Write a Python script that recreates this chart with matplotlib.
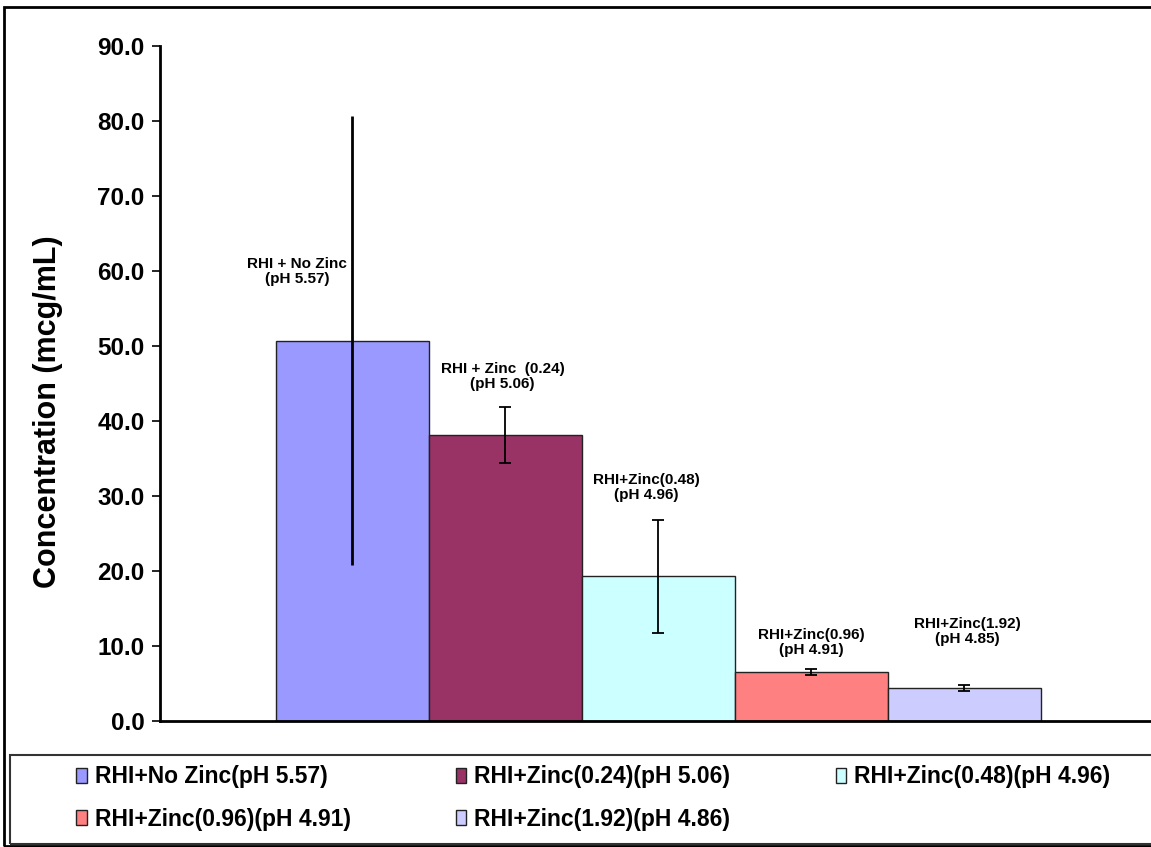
import matplotlib
matplotlib.use("Agg")
import matplotlib.pyplot as plt
from matplotlib.patches import Rectangle

legend_labels = ["RHI+No Zinc(pH 5.57)", "RHI+Zinc(0.24)(pH 5.06)", "RHI+Zinc(0.48)(pH 4.96)",
                 "RHI+Zinc(0.96)(pH 4.91)", "RHI+Zinc(1.92)(pH 4.86)"]
bar_notes = ["RHI + No Zinc\n(pH 5.57)", "RHI + Zinc  (0.24)\n(pH 5.06)", "RHI+Zinc(0.48)\n(pH 4.96)",
             "RHI+Zinc(0.96)\n(pH 4.91)", "RHI+Zinc(1.92)\n(pH 4.85)"]
means = [50.7, 38.1, 19.3, 6.6, 4.4]
errors = [29.9, 3.7, 7.5, 0.4, 0.4]
colors = ["#9999FF", "#993366", "#CCFFFF", "#FF8080", "#CCCCFF"]
yticks = [0, 10, 20, 30, 40, 50, 60, 70, 80, 90]

FONT = "Liberation Sans"
W, H = 1151, 847
fig = plt.figure(figsize=(W / 100, H / 100), dpi=100)
ax = fig.add_axes([160 / W, (H - 721) / H, (W - 160) / W, (721 - 46) / H])

x = list(range(len(means)))
bars = ax.bar(x, means, width=1.0, color=colors, edgecolor="#222222", linewidth=1.0)
ax.errorbar(x[:1], means[:1], yerr=errors[:1], fmt="none", ecolor="black", elinewidth=2, capsize=0)
ax.errorbar(x[1:], means[1:], yerr=errors[1:], fmt="none", ecolor="black", elinewidth=1.3,
            capsize=4, capthick=1.3)

note_x = [-0.36, 0.98, 1.92, 3.0, 4.02]
note_y = [59.9, 45.9, 31.1, 10.5, 11.9]
for nx, ny, t in zip(note_x, note_y, bar_notes):
    ax.text(nx, ny, t, ha="center", va="center", fontsize=11, fontweight="bold",
            family=FONT, linespacing=1.1)

ax.set_xlim(-1.258, (W - 352.5) / 153)
ax.set_ylim(0, 90)
ax.set_yticks(yticks)
ax.set_yticklabels([f"{v:.1f}" for v in yticks], fontsize=17.5, fontweight="bold", family=FONT)
ax.set_xticks([])
for s in ["top", "right"]:
    ax.spines[s].set_visible(False)
ax.spines["left"].set_linewidth(2)
ax.spines["bottom"].set_linewidth(2)
ax.tick_params(axis="y", direction="out", length=6, width=1.2, pad=5)
ax.set_ylabel("Concentration (mcg/mL)", fontsize=22, fontweight="bold", family=FONT)
ax.yaxis.set_label_coords((63 - 160) / (W - 160), (721 - 412) / (721 - 46))

# figure border and legend frame
fig.patches.append(Rectangle((4 / W, 1 / H), 1.2, (H - 8) / H, transform=fig.transFigure,
                             fill=False, edgecolor="black", linewidth=2))
fig.patches.append(Rectangle((10 / W, (H - 844) / H), 1.2, 89 / H, transform=fig.transFigure,
                             fill=False, edgecolor="#333333", linewidth=1.5))

# row-wise order for a 3-column legend (matplotlib fills columns first)
order = [0, 3, 1, 4, 2]
leg = fig.legend([bars[i] for i in order], [legend_labels[i] for i in order], ncol=3, loc="upper left",
                 bbox_to_anchor=(58 / W, (H - 747) / H), frameon=False,
                 prop={"family": FONT, "weight": "bold", "size": 16.5},
                 handlelength=0.45, handleheight=0.65, handletextpad=0.35,
                 columnspacing=4.6, labelspacing=0.85, borderpad=0.3)
for h in leg.legend_handles:
    h.set_edgecolor("#222222")
    h.set_linewidth(1.0)

fig.savefig("out.png", dpi=100)
